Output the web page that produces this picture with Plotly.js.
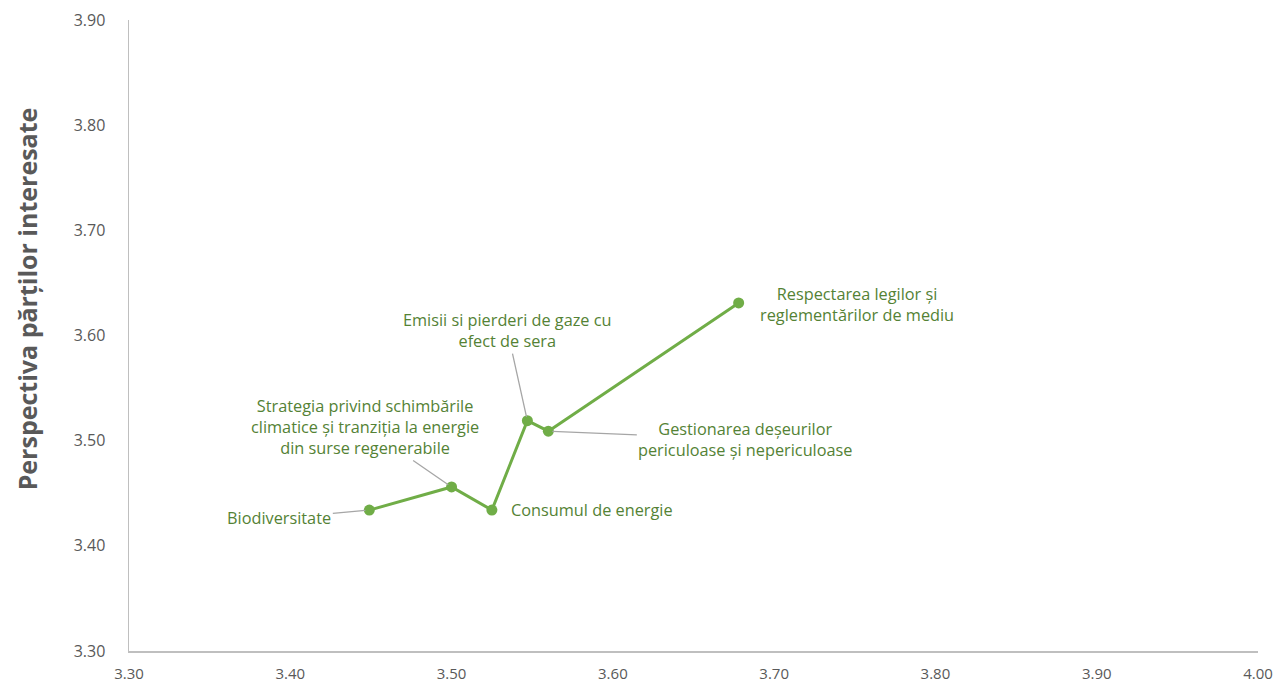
<!DOCTYPE html>
<html>
<head>
<meta charset="utf-8">
<script src="https://cdn.plot.ly/plotly-3.0.1.min.js"></script>
<style>html,body{margin:0;padding:0;background:#fff;}#chart{width:1279px;height:686px;}</style>
</head>
<body>
<div id="chart"></div>
<script>
const labels = [
  "Biodiversitate",
  "Strategia privind schimbările<br>climatice și tranziția la energie<br>din surse regenerabile",
  "Consumul de energie",
  "Emisii si pierderi de gaze cu<br>efect de sera",
  "Gestionarea deșeurilor<br>periculoase și nepericuloase",
  "Respectarea legilor și<br>reglementărilor de mediu"
];
const xValues = [3.449, 3.500, 3.525, 3.547, 3.560, 3.678];
const yValues = [3.434, 3.456, 3.434, 3.519, 3.509, 3.631];
const xTicks = [3.30, 3.40, 3.50, 3.60, 3.70, 3.80, 3.90, 4.00];
const yTicks = [3.30, 3.40, 3.50, 3.60, 3.70, 3.80, 3.90];
const yTitle = "Perspectiva părților interesate";

// label offsets (px) and whether a leader line is drawn
const labelOffsets = [
  {ax: -90, ay: 8, arrow: true},
  {ax: -87, ay: -60, arrow: true},
  {ax: 100, ay: 0, arrow: false},
  {ax: -20, ay: -90, arrow: true},
  {ax: 197, ay: 8, arrow: true},
  {ax: 118, ay: 2, arrow: false}
];

const trace = {
  type: 'scatter',
  mode: 'lines+markers',
  x: xValues,
  y: yValues,
  line: {color: '#70AD47', width: 3},
  marker: {color: '#70AD47', size: 11},
  hoverinfo: 'skip'
};

const annotations = labels.map((t, i) => ({
  x: xValues[i], y: yValues[i], xref: 'x', yref: 'y',
  text: t,
  showarrow: true,
  arrowhead: 0,
  arrowwidth: 1.3,
  arrowcolor: labelOffsets[i].arrow ? '#A6A6A6' : 'rgba(0,0,0,0)',
  standoff: 4,
  ax: labelOffsets[i].ax, ay: labelOffsets[i].ay,
  font: {family: 'Open Sans, sans-serif', size: 16.3, color: '#548235'},
  align: 'center'
}));

annotations.push({
  xref: 'paper', yref: 'paper', x: -0.0905, y: 0.5586,
  xanchor: 'center', yanchor: 'middle',
  text: '<b>' + yTitle + '</b>', textangle: -90, showarrow: false,
  font: {family: 'Open Sans, sans-serif', size: 25, color: '#595959'}
});

const layout = {
  width: 1279, height: 686,
  margin: {l: 129, r: 21, t: 20, b: 35},
  paper_bgcolor: '#fff', plot_bgcolor: '#fff',
  showlegend: false,
  xaxis: {
    range: [3.30, 4.00],
    tickvals: xTicks,
    ticktext: xTicks.map(v => v.toFixed(2)),
    showgrid: false, zeroline: false,
    showline: true, linecolor: '#BFBFBF', linewidth: 1.5,
    ticks: '', ticklabelstandoff: 8,
    tickfont: {family: 'Open Sans, sans-serif', size: 15, color: '#595959'}
  },
  yaxis: {
    range: [3.30, 3.90],
    tickvals: yTicks,
    ticktext: yTicks.map(v => v.toFixed(2)),
    showgrid: false, zeroline: false,
    showline: true, linecolor: '#BFBFBF', linewidth: 1.5,
    ticks: '', ticklabelstandoff: 19,
    tickfont: {family: 'Open Sans, sans-serif', size: 16, color: '#595959'}
  },
  annotations: annotations
};

Plotly.newPlot('chart', [trace], layout, {displayModeBar: false, staticPlot: true});
</script>
</body>
</html>
